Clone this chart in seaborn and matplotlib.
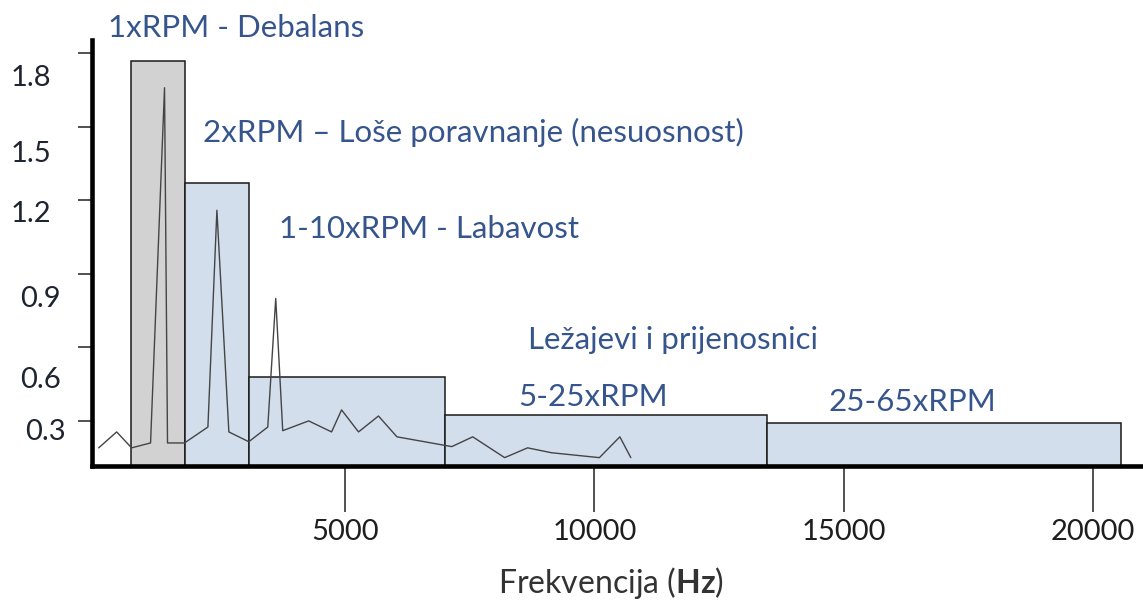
import numpy as np
import pandas as pd
import seaborn as sns
import matplotlib
matplotlib.use("Agg")
from matplotlib import pyplot as plt
from matplotlib.transforms import ScaledTranslation

# spectrum (Hz, amplitude)
freq = [60, 420, 720, 1100, 1380, 1440, 1780, 2250, 2430, 2670, 3070, 3450, 3610, 3750,
        4270, 4730, 4930, 5270, 5670, 6040, 7140, 7560, 8200, 8660, 9140, 10100, 10510, 10730]
amp = [0.19, 0.255, 0.19, 0.21, 1.66, 0.21, 0.21, 0.275, 1.16, 0.255, 0.215, 0.275, 0.80, 0.26,
       0.30, 0.255, 0.345, 0.255, 0.32, 0.235, 0.195, 0.235, 0.15, 0.19, 0.17, 0.15, 0.235, 0.15]

# fault bands
band_start = [700, 1800, 3070, 7000, 13470]
band_end = [1800, 3070, 7000, 13470, 20550]
band_level = [1.77, 1.27, 0.48, 0.325, 0.29]
band_color = ['#d2d2d2', '#d3deed', '#d3deed', '#d3deed', '#d3deed']

band_text = ['1xRPM - Debalans',
             '2xRPM \u2013 Lo\u0161e poravnanje (nesuosnost)',
             '1-10xRPM - Labavost',
             'Le\u017eajevi i prijenosnici',
             '5-25xRPM',
             '25-65xRPM']
text_pos = [(250, 1.904), (2150, 1.476), (3680, 1.084), (8670, 0.631), (8470, 0.398), (14690, 0.378)]

yticks = [0.3, 0.6, 0.9, 1.2, 1.5, 1.8]
xticks = [5000, 10000, 15000, 20000]

sns.set_style("white")
plt.rcParams['font.family'] = ['Lato', 'DejaVu Sans']
plt.rcParams['mathtext.fontset'] = 'custom'
plt.rcParams['mathtext.rm'] = 'Lato'
plt.rcParams['mathtext.bf'] = 'Lato:bold'

fig = plt.figure(figsize=(11.43, 6.05), dpi=100)
ax = fig.add_axes([0.0805, 0.2298, 0.9195, 0.7041])

y0 = 0.116
ax.set_xlim(-74, 21000)
ax.set_ylim(y0, 1.855)

bands = pd.DataFrame({'start': band_start, 'end': band_end, 'level': band_level})
ax.bar(bands['start'], bands['level'] - y0, width=bands['end'] - bands['start'], bottom=y0,
       align='edge', color=band_color, edgecolor='#1a1a1a', linewidth=1.1, zorder=1)

spec = pd.DataFrame({'freq': freq, 'amp': amp})
sns.lineplot(data=spec, x='freq', y='amp', ax=ax, color='#444444', linewidth=1.0,
             sort=False, zorder=3)

for s, (x, y) in zip(band_text, text_pos):
    ax.text(x, y, s, ha='left', va='center', fontsize=22.5, color='#35558c', clip_on=False)

sns.despine(ax=ax)
ax.spines['left'].set_linewidth(3.3)
ax.spines['bottom'].set_linewidth(3.3)
ax.spines['left'].set_color('black')
ax.spines['bottom'].set_color('black')

ax.set_xticks(xticks, [str(t) for t in xticks])
ax.set_yticks(yticks, [str(t) for t in yticks])
ax.tick_params(axis='x', direction='out', length=33, width=1.1, color='#222222',
               pad=5, labelsize=21, labelcolor='#1e1e1e', bottom=True)
ax.tick_params(axis='y', direction='out', length=10, width=1.1, color='#222222',
               pad=3, labelsize=21, labelcolor='#1e2430', left=True)

# the value labels sit a bit below their ticks in the original
shift = {0.3: (-8, 9), 0.6: (-13, 30), 0.9: (-13, 23), 1.2: (-23, 11), 1.5: (-23, 25), 1.8: (-23, 22)}
for lab, t in zip(ax.get_yticklabels(), yticks):
    dx, dy = shift[t]
    lab.set_transform(lab.get_transform() + ScaledTranslation(dx / 100, -dy / 100, fig.dpi_scale_trans))

ax.set_xlabel('Frekvencija ($\\mathbf{Hz}$)', fontsize=23, color='#333333')
ax.set_ylabel('')
ax.xaxis.set_label_coords((611 - 92) / 1051, (466 - 583) / 426)
ax.xaxis.label.set_va('center')

plt.savefig('out.png', dpi=100)
